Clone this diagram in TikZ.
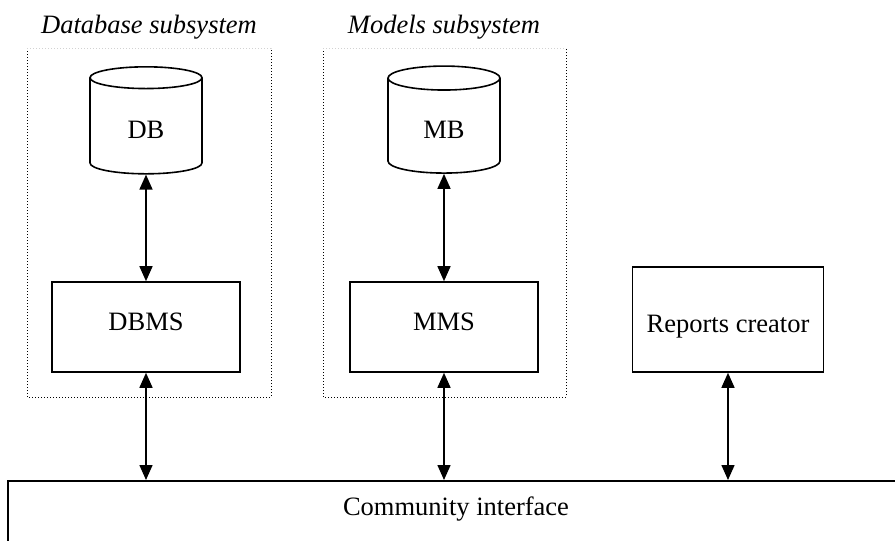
\documentclass[tikz,border=0pt]{standalone}
\usepackage{fontspec}
\setmainfont{Liberation Serif}
\usetikzlibrary{arrows.meta,shapes.geometric}

\begin{document}
\begin{tikzpicture}[
  x=1pt, y=-1pt,
  every node/.style={font=\fontsize{26.5}{30}\selectfont},
  sub/.style={anchor=base,font=\fontsize{26.5}{30}\selectfont\itshape},
  box/.style={draw,line width=1.6pt,minimum width=188pt,minimum height=90pt,
    text height=18pt,text depth=12pt},
  base/.style={draw,cylinder,shape border rotate=90,aspect=0.5,inner ysep=2pt,
    line width=1.6pt,minimum width=112pt,minimum height=107pt,
    text height=20pt,text depth=0pt},
  frame/.style={line width=1pt,dash pattern=on 1pt off 2pt},
  arrow/.style={{Triangle[length=15pt,width=13pt]}-{Triangle[length=15pt,width=13pt]},
    line width=1.5pt}
]
\clip (0,0) rectangle (895,541);

% dotted frames of the two subsystems
\draw[frame] (27,48) -- (27,397) -- (271,397) -- (271,48);
\draw[frame,gray!35] (27,48) -- (271,48);
\draw[frame] (323,48) -- (323,397) -- (566,397) -- (566,48);
\draw[frame,gray!35] (323,48) -- (566,48);
\node[sub] (dbsub) at (149,33) {Database subsystem};
\node[sub] (mdsub) at (444,33) {Models subsystem};

% stores and their managers
\node[base] (db) at (146,128) {DB};
\node[base] (mb) at (444,128) {MB};
\node[box] (dbms) at (146,327) {DBMS};
\node[box] (mms) at (444,327) {MMS};
\node[box,minimum width=191pt,minimum height=105pt,text height=30pt,
  text depth=5pt] (rep) at (728,319.5) {Reports creator};

\node[draw,line width=1.6pt,anchor=north,minimum width=896pt,text height=20pt,
  text depth=60pt,inner ysep=15pt] (ci) at (456,480) {Community interface};

\draw[arrow] (db) -- (dbms);
\draw[arrow] (mb) -- (mms);
\draw[arrow] (dbms) -- (dbms |- ci.north);
\draw[arrow] (mms) -- (mms |- ci.north);
\draw[arrow] (rep) -- (rep |- ci.north);
\end{tikzpicture}
\end{document}
